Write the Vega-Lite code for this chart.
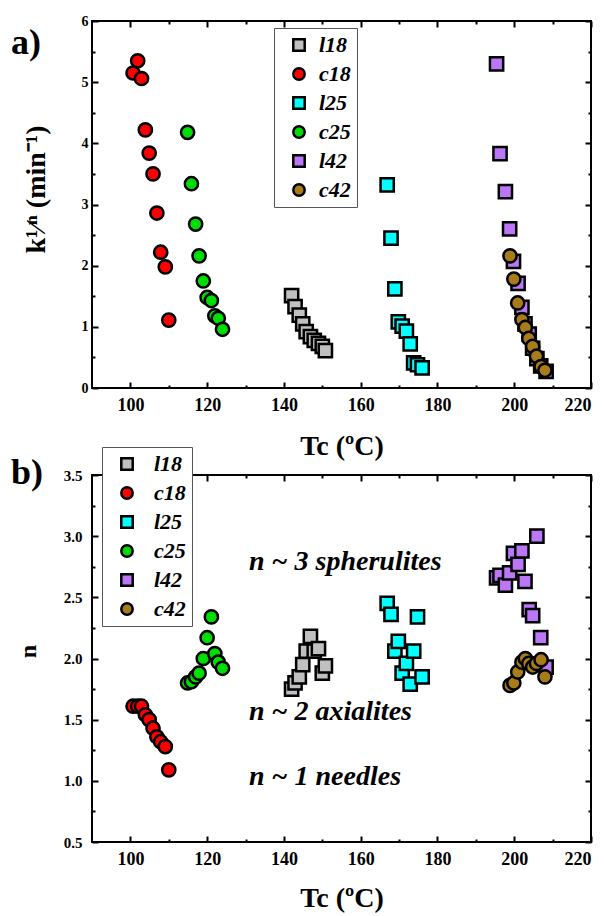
{
  "$schema": "https://vega.github.io/schema/vega-lite/v6.json",
  "padding": {"left": 10, "top": 13, "right": 5, "bottom": 2},
  "spacing": 87,
  "bounds": "flush",
  "resolve": {"scale": {"color": "independent", "shape": "independent"}},
  "datasets": {
    "pts": [
      {"s":"l18","T":142.0,"k":1.51,"n":1.75},
      {"s":"l18","T":142.9,"k":1.33,"n":1.80},
      {"s":"l18","T":144.0,"k":1.19,"n":1.85},
      {"s":"l18","T":144.9,"k":1.05,"n":1.95},
      {"s":"l18","T":145.8,"k":0.92,"n":2.06},
      {"s":"l18","T":146.9,"k":0.84,"n":2.18},
      {"s":"l18","T":147.9,"k":0.78,"n":2.06},
      {"s":"l18","T":149.0,"k":0.73,"n":2.08},
      {"s":"l18","T":150.0,"k":0.68,"n":1.88},
      {"s":"l18","T":150.8,"k":0.61,"n":1.94},
      {"s":"c18","T":100.7,"k":5.15,"n":1.61},
      {"s":"c18","T":101.9,"k":5.35,"n":1.61},
      {"s":"c18","T":102.9,"k":5.06,"n":1.61},
      {"s":"c18","T":103.9,"k":4.22,"n":1.54},
      {"s":"c18","T":104.9,"k":3.84,"n":1.50},
      {"s":"c18","T":105.9,"k":3.50,"n":1.43},
      {"s":"c18","T":106.9,"k":2.86,"n":1.36},
      {"s":"c18","T":107.9,"k":2.22,"n":1.32},
      {"s":"c18","T":109.1,"k":1.98,"n":1.28},
      {"s":"c18","T":110.0,"k":1.11,"n":1.09},
      {"s":"l25","T":166.9,"k":3.32,"n":2.45},
      {"s":"l25","T":167.9,"k":2.45,"n":2.36},
      {"s":"l25","T":168.9,"k":1.62,"n":2.06},
      {"s":"l25","T":169.8,"k":1.08,"n":2.14},
      {"s":"l25","T":170.8,"k":1.01,"n":1.88},
      {"s":"l25","T":171.9,"k":0.93,"n":1.96},
      {"s":"l25","T":172.9,"k":0.72,"n":1.79},
      {"s":"l25","T":173.8,"k":0.41,"n":2.06},
      {"s":"l25","T":174.8,"k":0.38,"n":2.34},
      {"s":"l25","T":176.0,"k":0.33,"n":1.85},
      {"s":"c25","T":114.9,"k":4.18,"n":1.80},
      {"s":"c25","T":115.9,"k":3.34,"n":1.81},
      {"s":"c25","T":117.0,"k":2.68,"n":1.85},
      {"s":"c25","T":117.9,"k":2.16,"n":1.88},
      {"s":"c25","T":119.0,"k":1.75,"n":2.00},
      {"s":"c25","T":120.0,"k":1.48,"n":2.17},
      {"s":"c25","T":121.1,"k":1.43,"n":2.34},
      {"s":"c25","T":122.0,"k":1.18,"n":2.04},
      {"s":"c25","T":122.9,"k":1.14,"n":1.97},
      {"s":"c25","T":124.0,"k":0.96,"n":1.92},
      {"s":"l42","T":195.4,"k":5.30,"n":2.66},
      {"s":"l42","T":196.3,"k":3.83,"n":2.68},
      {"s":"l42","T":197.7,"k":3.21,"n":2.60},
      {"s":"l42","T":198.8,"k":2.60,"n":2.70},
      {"s":"l42","T":199.8,"k":2.07,"n":2.86},
      {"s":"l42","T":201.0,"k":1.71,"n":2.77},
      {"s":"l42","T":202.0,"k":1.32,"n":2.88},
      {"s":"l42","T":202.8,"k":1.05,"n":2.63},
      {"s":"l42","T":203.9,"k":0.88,"n":2.40},
      {"s":"l42","T":204.8,"k":0.65,"n":2.35},
      {"s":"l42","T":205.9,"k":0.48,"n":3.00},
      {"s":"l42","T":206.9,"k":0.36,"n":2.17},
      {"s":"l42","T":208.3,"k":0.27,"n":1.93},
      {"s":"c42","T":198.9,"k":2.16,"n":1.78},
      {"s":"c42","T":199.9,"k":1.78,"n":1.80},
      {"s":"c42","T":200.9,"k":1.39,"n":1.89},
      {"s":"c42","T":202.0,"k":1.12,"n":1.97},
      {"s":"c42","T":202.9,"k":0.99,"n":2.00},
      {"s":"c42","T":203.8,"k":0.81,"n":1.96},
      {"s":"c42","T":204.8,"k":0.68,"n":1.93},
      {"s":"c42","T":205.8,"k":0.52,"n":1.96},
      {"s":"c42","T":207.0,"k":0.35,"n":1.99},
      {"s":"c42","T":208.0,"k":0.29,"n":1.85}
    ],
    "notes": [
      {"T":130.9,"n":2.79,"t":"n ~ 3 spherulites"},
      {"T":130.9,"n":1.56,"t":"n ~ 2 axialites"},
      {"T":130.9,"n":1.03,"t":"n ~ 1 needles"}
    ]
  },
  "vconcat": [
    {
      "width": 499,
      "height": 367,
      "data": {"name": "pts"},
      "resolve": {"axis": {"x": "independent", "y": "independent"}},
      "layer": [
        {
          "mark": {"type": "point", "opacity": 0},
          "encoding": {
            "x": {"field": "T", "type": "quantitative", "scale": {"domain": [90, 220], "nice": false, "zero": false},
              "axis": {"orient": "bottom", "values": [110,130,150,170,190,210], "offset": -3, "tickSize": 3, "domain": false, "labels": false, "title": null}},
            "y": {"field": "k", "type": "quantitative", "scale": {"domain": [0, 6], "nice": false, "zero": false},
              "axis": {"orient": "left", "values": [0.5,1.5,2.5,3.5,4.5,5.5], "offset": -3, "tickSize": 3, "domain": false, "labels": false, "title": null}}
          }
        },
        {
          "mark": {"type": "point", "opacity": 0},
          "encoding": {
            "x": {"field": "T", "type": "quantitative",
              "axis": {"orient": "top", "values": [100,120,140,160,180,200,220], "offset": -6, "tickSize": 6, "domain": false, "labels": false, "title": null}},
            "y": {"field": "k", "type": "quantitative",
              "axis": {"orient": "right", "values": [0,1,2,3,4,5,6], "offset": -6, "tickSize": 6, "domain": false, "labels": false, "title": null}}
          }
        },
        {
          "mark": {"type": "point", "opacity": 0},
          "encoding": {
            "x": {"field": "T", "type": "quantitative",
              "axis": {"orient": "top", "values": [110,130,150,170,190,210], "offset": -3, "tickSize": 3, "domain": false, "labels": false, "title": null}},
            "y": {"field": "k", "type": "quantitative",
              "axis": {"orient": "right", "values": [0.5,1.5,2.5,3.5,4.5,5.5], "offset": -3, "tickSize": 3, "domain": false, "labels": false, "title": null}}
          }
        },
        {
          "data": {"values": [{"T": 68.9, "k": 5.46, "t": "a)"}]},
          "mark": {"type": "text", "align": "left", "baseline": "alphabetic", "font": "Liberation Serif", "fontSize": 36, "fontWeight": "bold", "color": "black"},
          "encoding": {
            "x": {"field": "T", "type": "quantitative", "axis": null},
            "y": {"field": "k", "type": "quantitative", "axis": null},
            "text": {"field": "t"}
          }
        },
        {
          "mark": {"type": "point", "filled": true, "stroke": "black", "strokeWidth": 2.5, "opacity": 1, "size": 175},
          "encoding": {
            "x": {"field": "T", "type": "quantitative",
              "axis": {"orient": "bottom", "values": [100,120,140,160,180,200,220], "offset": -6, "tickSize": 6, "domain": false, "labelFontSize": 18, "labelPadding": 8,
                "title": "Tc (ºC)", "titleFontSize": 28, "titlePadding": 18}},
            "y": {"field": "k", "type": "quantitative",
              "axis": {"orient": "left", "values": [0,1,2,3,4,5,6], "offset": -6, "tickSize": 6, "domain": false, "labelFontSize": 14, "labelPadding": 4,
                "title": "k¹⁄ⁿ (min⁻¹)", "titleFontSize": 28, "titleBaseline": "middle", "titleX": -62, "titleY": 168}},
            "color": {"field": "s", "type": "nominal",
              "scale": {"domain": ["l18","c18","l25","c25","l42","c42"], "range": ["#c0c0c0","#ff0000","#00ffff","#00dd00","#bb77f7","#a87c1a"]},
              "legend": {"orient": "none", "legendX": 182, "legendY": 7, "title": null, "padding": 6, "symbolOffset": 8, "labelOffset": 9,
                "rowPadding": 7, "strokeColor": "#555555", "fillColor": "white", "symbolSize": 130, "symbolStrokeColor": "black", "symbolStrokeWidth": 2.5,
                "labelFont": "Liberation Serif", "labelFontSize": 22, "labelFontWeight": "bold", "labelFontStyle": "italic", "labelColor": "black", "labelLimit": 200}},
            "shape": {"field": "s", "type": "nominal",
              "scale": {"domain": ["l18","c18","l25","c25","l42","c42"], "range": ["square","circle","square","circle","square","circle"]}}
          }
        }
      ]
    },
    {
      "width": 499,
      "height": 367,
      "resolve": {"axis": {"x": "independent", "y": "independent"}},
      "layer": [
        {
          "data": {"name": "pts"},
          "mark": {"type": "point", "opacity": 0},
          "encoding": {
            "x": {"field": "T", "type": "quantitative", "scale": {"domain": [90, 220], "nice": false, "zero": false},
              "axis": {"orient": "bottom", "values": [110,130,150,170,190,210], "offset": -3, "tickSize": 3, "domain": false, "labels": false, "title": null}},
            "y": {"field": "n", "type": "quantitative", "scale": {"domain": [0.5, 3.5], "nice": false, "zero": false},
              "axis": {"orient": "left", "values": [0.75,1.25,1.75,2.25,2.75,3.25], "offset": -3, "tickSize": 3, "domain": false, "labels": false, "title": null}}
          }
        },
        {
          "data": {"name": "pts"},
          "mark": {"type": "point", "opacity": 0},
          "encoding": {
            "x": {"field": "T", "type": "quantitative",
              "axis": {"orient": "top", "values": [100,120,140,160,180,200,220], "offset": -6, "tickSize": 6, "domain": false, "labels": false, "title": null}},
            "y": {"field": "n", "type": "quantitative",
              "axis": {"orient": "right", "values": [0.5,1,1.5,2,2.5,3,3.5], "offset": -6, "tickSize": 6, "domain": false, "labels": false, "title": null}}
          }
        },
        {
          "data": {"name": "pts"},
          "mark": {"type": "point", "opacity": 0},
          "encoding": {
            "x": {"field": "T", "type": "quantitative",
              "axis": {"orient": "top", "values": [110,130,150,170,190,210], "offset": -3, "tickSize": 3, "domain": false, "labels": false, "title": null}},
            "y": {"field": "n", "type": "quantitative",
              "axis": {"orient": "right", "values": [0.75,1.25,1.75,2.25,2.75,3.25], "offset": -3, "tickSize": 3, "domain": false, "labels": false, "title": null}}
          }
        },
        {
          "data": {"name": "notes"},
          "mark": {"type": "text", "align": "left", "baseline": "middle", "font": "Liberation Serif", "fontSize": 28, "fontWeight": "bold", "fontStyle": "italic", "color": "black"},
          "encoding": {
            "x": {"field": "T", "type": "quantitative", "axis": null},
            "y": {"field": "n", "type": "quantitative", "axis": null},
            "text": {"field": "t"}
          }
        },
        {
          "data": {"values": [{"T": 68.9, "n": 3.43, "t": "b)"}]},
          "mark": {"type": "text", "align": "left", "baseline": "alphabetic", "font": "Liberation Serif", "fontSize": 36, "fontWeight": "bold", "color": "black"},
          "encoding": {
            "x": {"field": "T", "type": "quantitative", "axis": null},
            "y": {"field": "n", "type": "quantitative", "axis": null},
            "text": {"field": "t"}
          }
        },
        {
          "data": {"name": "pts"},
          "mark": {"type": "point", "filled": true, "stroke": "black", "strokeWidth": 2.5, "opacity": 1, "size": 175},
          "encoding": {
            "x": {"field": "T", "type": "quantitative",
              "axis": {"orient": "bottom", "values": [100,120,140,160,180,200,220], "offset": -6, "tickSize": 6, "domain": false, "labelFontSize": 18, "labelPadding": 8,
                "title": "Tc (ºC)", "titleFontSize": 28, "titlePadding": 16}},
            "y": {"field": "n", "type": "quantitative",
              "axis": {"orient": "left", "values": [0.5,1,1.5,2,2.5,3,3.5], "format": ".1f", "offset": -6, "tickSize": 6, "domain": false, "labelFontSize": 15, "labelPadding": 10,
                "title": "n", "titleFontSize": 24, "titleBaseline": "middle", "titleX": -70, "titleY": 176}},
            "color": {"field": "s", "type": "nominal",
              "scale": {"domain": ["l18","c18","l25","c25","l42","c42"], "range": ["#c0c0c0","#ff0000","#00ffff","#00dd00","#bb77f7","#a87c1a"]},
              "legend": {"orient": "none", "legendX": 10, "legendY": -28, "title": null, "padding": 6, "symbolOffset": 8, "labelOffset": 16,
                "rowPadding": 7, "strokeColor": "#555555", "fillColor": "white", "symbolSize": 130, "symbolStrokeColor": "black", "symbolStrokeWidth": 2.5,
                "labelFont": "Liberation Serif", "labelFontSize": 22, "labelFontWeight": "bold", "labelFontStyle": "italic", "labelColor": "black", "labelLimit": 200}},
            "shape": {"field": "s", "type": "nominal",
              "scale": {"domain": ["l18","c18","l25","c25","l42","c42"], "range": ["square","circle","square","circle","square","circle"]}}
          }
        }
      ]
    }
  ],
  "config": {
    "view": {"stroke": "black", "strokeWidth": 2},
    "axis": {"grid": false, "tickColor": "black", "tickWidth": 2,
      "labelFont": "Liberation Serif", "labelFontWeight": "bold", "labelColor": "black",
      "titleFont": "Liberation Serif", "titleFontWeight": "bold", "titleColor": "black"}
  }
}
